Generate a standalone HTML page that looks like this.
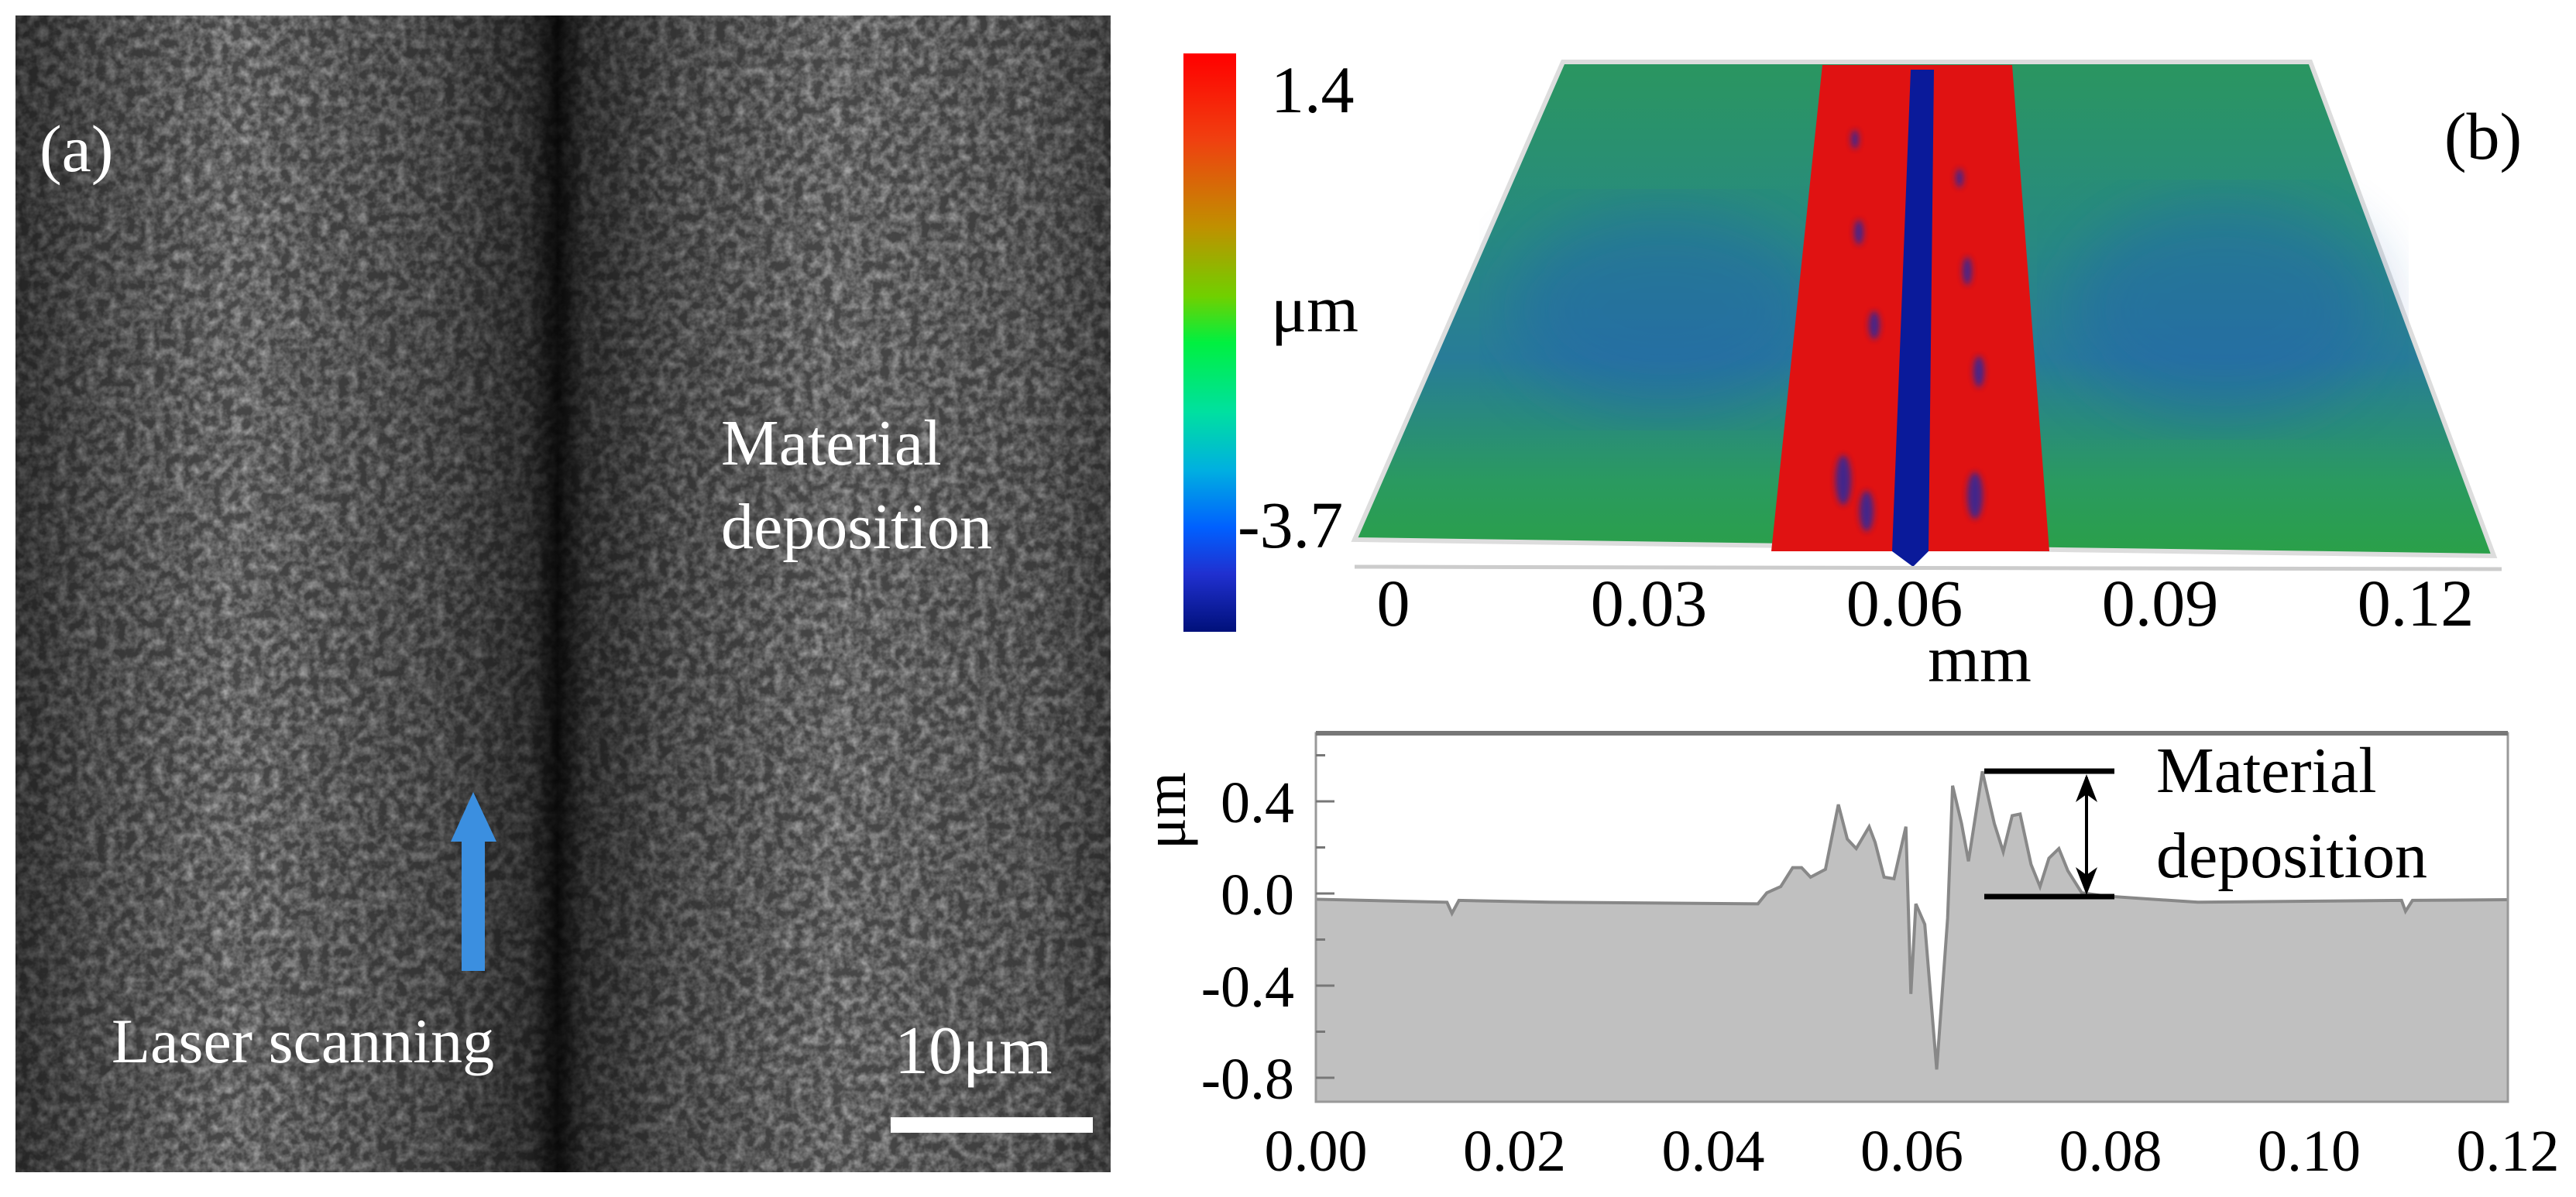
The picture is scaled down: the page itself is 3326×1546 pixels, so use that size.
<!DOCTYPE html>
<html><head><meta charset="utf-8"><style>
html,body{margin:0;padding:0;background:#fff;}
svg, svg text{font-family:"Liberation Serif","Noto Serif CJK SC","DejaVu Serif",serif;}
</style></head><body>
<svg id="fig" width="3326" height="1541" viewBox="0 0 3326 1541" xmlns="http://www.w3.org/2000/svg" font-family="'Liberation Serif', 'Noto Serif CJK SC', serif">
<defs>
<filter id="sem" x="0" y="0" width="100%" height="100%">
<feTurbulence type="fractalNoise" baseFrequency="0.08" numOctaves="3" seed="4" result="n"/>
<feColorMatrix type="matrix" values="0 0 0 0 0  0 0 0 0 0  0 0 0 0 0  1.7 0 0 0 -0.55" in="n" result="a"/>
<feFlood flood-color="#bdbdbd"/>
<feComposite in2="a" operator="in"/>
</filter>
<filter id="blur40"><feGaussianBlur stdDeviation="40"/></filter>
<filter id="blur4"><feGaussianBlur stdDeviation="4"/></filter>
<linearGradient id="semShadeH" x1="0" x2="1" y1="0" y2="0">
<stop offset="0" stop-color="#000" stop-opacity="0.55"/>
<stop offset="0.07" stop-color="#000" stop-opacity="0.35"/>
<stop offset="0.2" stop-color="#000" stop-opacity="0.1"/>
<stop offset="0.38" stop-color="#000" stop-opacity="0.35"/>
<stop offset="0.47" stop-color="#000" stop-opacity="0.6"/>
<stop offset="0.495" stop-color="#000" stop-opacity="0.9"/>
<stop offset="0.52" stop-color="#000" stop-opacity="0.6"/>
<stop offset="0.6" stop-color="#000" stop-opacity="0.35"/>
<stop offset="0.75" stop-color="#000" stop-opacity="0.1"/>
<stop offset="0.93" stop-color="#000" stop-opacity="0.25"/>
<stop offset="1" stop-color="#000" stop-opacity="0.45"/>
</linearGradient>
<linearGradient id="cbar" x1="0" x2="0" y1="0" y2="1">
<stop offset="0" stop-color="#ff0000"/>
<stop offset="0.15" stop-color="#f04010"/>
<stop offset="0.3" stop-color="#c09000"/>
<stop offset="0.42" stop-color="#70d000"/>
<stop offset="0.5" stop-color="#00f040"/>
<stop offset="0.62" stop-color="#00e0a0"/>
<stop offset="0.72" stop-color="#00b0e0"/>
<stop offset="0.82" stop-color="#0060ff"/>
<stop offset="0.9" stop-color="#2030d0"/>
<stop offset="1" stop-color="#00107a"/>
</linearGradient>
<linearGradient id="plane" x1="0" x2="0" y1="0" y2="1">
<stop offset="0" stop-color="#2a9660"/>
<stop offset="0.35" stop-color="#288a80"/>
<stop offset="0.6" stop-color="#287c98"/>
<stop offset="0.85" stop-color="#2a9a60"/>
<stop offset="1" stop-color="#2aa048"/>
</linearGradient>
</defs>

<g>
<rect x="20" y="20" width="1414" height="1494" fill="#505050"/>
<rect x="20" y="20" width="1414" height="1494" filter="url(#sem)"/>
<rect x="20" y="20" width="1414" height="1494" fill="url(#semShadeH)"/>
<text x="51" y="221" font-size="86" fill="#fff">(a)</text>
<text x="931" y="600" font-size="84" fill="#fff">Material</text>
<text x="931" y="708" font-size="84" fill="#fff">deposition</text>
<polygon points="611,1023 641,1087 626,1087 626,1254 596,1254 596,1087 582,1087" fill="#3b8fe0"/>
<text x="144" y="1372" font-size="82" fill="#fff">Laser scanning</text>
<text x="1155" y="1386" font-size="88" fill="#fff">10μm</text>
<rect x="1150" y="1443" width="261" height="20" fill="#fff"/>
</g>

<g>
<rect x="1528" y="69" width="68" height="747" fill="url(#cbar)"/>
<text x="1641" y="145" font-size="86" fill="#000">1.4</text>
<text x="1641" y="428" font-size="86" fill="#000">μm</text>
<text x="1598" y="707" font-size="86" fill="#000">-3.7</text>
<polygon points="2018,80 2983,80 3220,718 1749,697" fill="url(#plane)" stroke="#ddd" stroke-width="6"/>
<ellipse cx="2150" cy="400" rx="200" ry="130" fill="#2060b0" opacity="0.45" filter="url(#blur40)"/>
<ellipse cx="2870" cy="400" rx="200" ry="140" fill="#2060b0" opacity="0.45" filter="url(#blur40)"/>
<polygon points="2353,84 2598,84 2646,712 2287,712" fill="#e01212"/>
<g fill="#1a2aa8" opacity="0.8" filter="url(#blur4)">
<ellipse cx="2400" cy="300" rx="6" ry="16"/><ellipse cx="2420" cy="420" rx="7" ry="18"/><ellipse cx="2540" cy="350" rx="6" ry="18"/><ellipse cx="2555" cy="480" rx="7" ry="20"/>
<ellipse cx="2380" cy="620" rx="10" ry="32"/><ellipse cx="2410" cy="660" rx="9" ry="26"/><ellipse cx="2550" cy="640" rx="10" ry="30"/><ellipse cx="2530" cy="230" rx="5" ry="12"/><ellipse cx="2395" cy="180" rx="5" ry="12"/>
</g>
<polygon points="2467,90 2497,90 2490,712 2470,732 2443,712" fill="#0a1a9a"/>
<line x1="1749" y1="732" x2="3230" y2="735" stroke="#ccc" stroke-width="5"/>
<g id="xticks3d"></g>
<text x="2556" y="880" font-size="86" text-anchor="middle">mm</text>
<text x="3206" y="205" font-size="86" text-anchor="middle">(b)</text>
</g>

<g id="profile">
<rect x="1699" y="947" width="1539" height="476" fill="#fff"/>
<g id="prof-marks"></g>
<rect x="1699" y="947" width="1539" height="476" fill="none" stroke="#999" stroke-width="3"/>
<line x1="1699" y1="947" x2="3238" y2="947" stroke="#777" stroke-width="6"/>
<g id="prof-axes"></g>
<text transform="translate(1530,1047) rotate(-90)" font-size="76" text-anchor="middle">μm</text>
<line x1="2562" y1="996" x2="2730" y2="996" stroke="#000" stroke-width="7"/>
<line x1="2562" y1="1158" x2="2730" y2="1158" stroke="#000" stroke-width="7"/>
<line x1="2694" y1="1004" x2="2694" y2="1150" stroke="#000" stroke-width="4"/>
<polygon points="2694,1000 2680,1036 2694,1026 2708,1036" fill="#000"/>
<polygon points="2694,1156 2680,1120 2694,1130 2708,1120" fill="#000"/>
<text x="2784" y="1023" font-size="84">Material</text>
<text x="2784" y="1133" font-size="84">deposition</text>
</g>
</svg>
<script>
var xTickLabels3d = ["0","0.03","0.06","0.09","0.12"];
var xTickValues3d = [0,0.03,0.06,0.09,0.12];
var profX = [0,0.0132,0.0137,0.0144,0.0235,0.0445,0.0454,0.0468,0.048,0.0489,0.0498,0.0513,0.0526,0.0535,0.0544,0.0557,0.0563,0.0572,0.0582,0.0594,0.0599,0.0604,0.0613,0.0625,0.0636,0.0641,0.065,0.0657,0.0671,0.0683,0.0692,0.0701,0.0709,0.072,0.0729,0.0738,0.0748,0.0757,0.0771,0.0794,0.0888,0.1093,0.1097,0.1104,0.12];
var profY = [-0.025,-0.038,-0.086,-0.03,-0.038,-0.045,0.003,0.03,0.112,0.112,0.071,0.105,0.386,0.236,0.195,0.29,0.222,0.071,0.064,0.29,-0.436,-0.045,-0.134,-0.764,-0.107,0.468,0.304,0.14,0.53,0.304,0.181,0.338,0.345,0.126,0.03,0.153,0.195,0.099,0.003,-0.011,-0.038,-0.03,-0.077,-0.03,-0.027];
var xTickValues = [0,0.02,0.04,0.06,0.08,0.10,0.12];
var xTickLabels = ["0.00","0.02","0.04","0.06","0.08","0.10","0.12"];
var yTickValues = [0.4,0.0,-0.4,-0.8];
var yTickLabels = ["0.4","0.0","-0.4","-0.8"];
var yMinorValues = [0.6,0.2,-0.2,-0.6];

var NS="http://www.w3.org/2000/svg";
function mk(t,a,p){var e=document.createElementNS(NS,t);for(var k in a)e.setAttribute(k,a[k]);p.appendChild(e);return e;}
function x3d(v){return 1799+(v-0)*(3119-1799)/0.12;}
function xs(v){return 1699+v*(3238-1699)/0.12;}
function ys(v){return 1154-v*(119/0.4);}

var g3=document.getElementById('xticks3d');
xTickValues3d.forEach(function(v,i){
  var t=mk('text',{x:x3d(v),y:808,'font-size':86,'text-anchor':'middle'},g3);
  t.textContent=xTickLabels3d[i];
  
  
});

var gm=document.getElementById('prof-marks');
var d='M'+xs(profX[0])+','+ys(-0.9);
for(var i=0;i<profX.length;i++)d+=' L'+xs(profX[i])+','+ys(profY[i]);
d+=' L'+xs(profX[profX.length-1])+','+ys(-0.9)+' Z';
var area=mk('path',{d:d,fill:'#c0c0c0',stroke:'none'},gm);


var ld='';
for(var j=0;j<profX.length;j++)ld+=(j?' L':'M')+xs(profX[j])+','+ys(profY[j]);
var line=mk('path',{d:ld,fill:'none',stroke:'#888','stroke-width':4},gm);



var ga=document.getElementById('prof-axes');
xTickValues.forEach(function(v,i){
  var t=mk('text',{x:xs(v),y:1512,'font-size':76,'text-anchor':'middle'},ga);
  t.textContent=xTickLabels[i];
  
  
});
yTickValues.forEach(function(v,i){
  var tk=mk('line',{x1:1699,x2:1723,y1:ys(v),y2:ys(v),stroke:'#777','stroke-width':3},ga);
  
  
  var t=mk('text',{x:1671,y:ys(v)+27,'font-size':76,'text-anchor':'end'},ga);
  t.textContent=yTickLabels[i];
  
  
});
yMinorValues.forEach(function(v){
  var tk=mk('line',{x1:1699,x2:1711,y1:ys(v),y2:ys(v),stroke:'#777','stroke-width':3},ga);
  
  
});
</script>
</body></html>
